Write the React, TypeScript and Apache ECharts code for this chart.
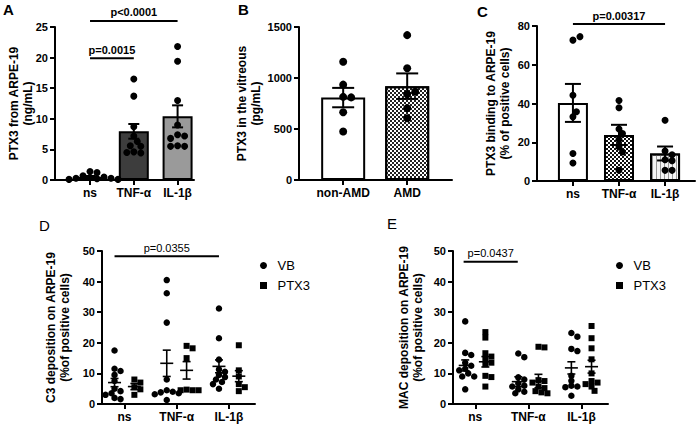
import React, { useEffect, useRef } from 'react';
import * as echarts from 'echarts';

const FONT = '"Liberation Sans", Arial, Helvetica, sans-serif';

// ---------- Panel A ----------
const aCats = ['ns', 'TNF-α', 'IL-1β'];
const aMean = [0.5, 7.95, 10.4];
const aSem = [0.15, 1.2, 1.8];
const aNs = [1.4, 1.2, 0.7, 0.5, 0.4, 0.3, 0.3, 0.2, 0.1, 0.1];
const aTnf = [16.5, 13.7, 8.7, 7.2, 6.3, 5.6, 5.5, 4.6, 4.4, 4.5];
const aIl = [21.8, 19.4, 13.0, 9.0, 7.4, 7.2, 6.8, 5.6, 5.5, 5.5];
const aSigLabels = ['p<0.0001', 'p=0.0015'];
const aSigRows = [[1, 3, 26.0], [1, 2, 19.9]];

// ---------- Panel B ----------
const bCats = ['non-AMD', 'AMD'];
const bMean = [808, 920];
const bSem = [95, 125];
const bNonAmd = [1160, 935, 815, 810, 665, 475];
const bAmd = [1420, 1095, 840, 865, 705, 605];

// ---------- Panel C ----------
const cCats = ['ns', 'TNF-α', 'IL-1β'];
const cMean = [40.3, 23.8, 14.2];
const cSem = [9.8, 5.2, 3.6];
const cNs = [72.7, 74.5, 44.3, 33.1, 35.7, 14.2, 9.3];
const cTnf = [41.5, 37.8, 26.8, 24.5, 21.4, 17.6, 15, 5.5];
const cIl = [31.4, 15.5, 13.5, 11, 10.5, 5.5, 5.5];
const cSigLabels = ['p=0.00317'];
const cSigRows = [[1, 3, 81]];

// ---------- Panel D ----------
const dCats = ['ns', 'TNF-α', 'IL-1β'];
const dVbNs = [17.5, 11.5, 10.8, 9.5, 7.5, 5, 4.2, 3.5, 3, 2, 1.6];
const dVbTnf = [40.5, 36.2, 26.6, 8.0, 4.5, 4.0, 3.8, 3.5, 3.2, 1.3];
const dVbIl = [31.2, 21.5, 14.5, 11.3, 10.5, 9.5, 8.8, 8, 7.2, 6.5, 5];
const dPtxNs = [8.0, 7.0, 5.5, 4.8, 3.0];
const dPtxTnf = [19, 18.2, 15, 4.7, 4.5, 4.5, 4.5];
const dPtxIl = [19.2, 11, 9, 6.5, 5.5, 4.2];
const dVbMean = [7.0, 13.3, 12.3];
const dVbSem = [1.35, 4.3, 2.1];
const dPtxMean = [5.7, 11.0, 9.1];
const dPtxSem = [1.0, 2.85, 1.8];
const dSigLabels = ['p=0.0355'];
const dSigRows = [[0.81, 2.81, 48.3]];

// ---------- Panel E ----------
const eCats = ['ns', 'TNF-α', 'IL-1β'];
const eVbNs = [27, 16.7, 16, 13.5, 12.5, 11.5, 11, 10, 9, 9, 4.8];
const eVbTnf = [16.5, 15.3, 8.7, 8, 6.8, 6, 5.7, 4.8, 4, 3.5];
const eVbIl = [23.2, 22, 18, 17.3, 9.2, 7.6, 6, 5.7, 5.5, 2.7];
const ePtxNs = [23.5, 21.7, 16.6, 15.5, 14.6, 13.5, 13, 9.2, 8.8, 5.7];
const ePtxTnf = [18.7, 18.5, 7.8, 7.5, 7, 5.7, 5.2, 4.2, 3.8, 3.5];
const ePtxIl = [25.5, 21.5, 18.2, 14.6, 10, 7.5, 7, 6.5, 5.7, 4.3];
const eVbMean = [12.6, 7.3, 11.8];
const eVbSem = [1.8, 1.6, 2.0];
const ePtxMean = [13.8, 7.5, 12.2];
const ePtxSem = [1.7, 2.2, 2.1];
const eSigLabels = ['p=0.0437'];
const eSigRows = [[0.78, 1.8, 46.5]];

const legendNames = ['VB', 'PTX3'];

// ---------- layout ----------
const grids = [
  { left: 55, top: 27, width: 139, height: 153 },
  { left: 299, top: 27, width: 153, height: 153 },
  { left: 537, top: 26, width: 158, height: 155 },
  { left: 102, top: 251, width: 153, height: 153 },
  { left: 453, top: 251, width: 155, height: 153 },
];
const xRanges = [[0.2, 3.375], [0.31, 2.7], [0.22, 3.65], [0.57, 3.5], [0.58, 3.5]];
const yMaxes = [25, 1500, 80, 50, 50];
const yIntervals = [5, 500, 20, 10, 10];
const yNames = [
  'PTX3 from ARPE-19\n(ng/mL)',
  'PTX3 in the vitreous\n(pg/mL)',
  'PTX3 binding to ARPE-19\n(% of positive cells)',
  'C3 deposition on ARPE-19\n(%of positive cells)',
  'MAC deposition on ARPE-19\n(%of positive cells)',
];
const nameGaps = [20, 36, 25, 30, 28];
const allCats = [aCats, bCats, cCats, dCats, eCats];
const GROUP_OFF = 0.19;

const pxX = (gi: number) => grids[gi].width / (xRanges[gi][1] - xRanges[gi][0]);
const pxY = (gi: number) => grids[gi].height / yMaxes[gi];

function swarm(values: number[], center: number, gi: number, d: number): number[][] {
  const placed: number[][] = [];
  const out: number[][] = [];
  const sx = pxX(gi);
  const sy = pxY(gi);
  for (const v of values) {
    const py = v * sy;
    let off = 0;
    for (let k = 0; k < 60; k++) {
      const cand = k === 0 ? 0 : (k % 2 === 1 ? 1 : -1) * Math.ceil(k / 2) * d * 0.5;
      if (placed.every(([qx, qy]) => Math.hypot(qx - cand, qy - py) >= d * 0.8)) {
        off = cand;
        break;
      }
    }
    placed.push([off, py]);
    out.push([center + off / sx, v]);
  }
  return out;
}

const black = '#000';

function errorSeries(gi: number, means: number[], sems: number[], off: number, cap: number, meanW: number, lw: number) {
  return {
    type: 'custom',
    xAxisIndex: gi,
    yAxisIndex: gi,
    z: 6,
    silent: true,
    clip: false,
    data: means.map((m, k) => [k + 1 + off, m, sems[k]]),
    renderItem: (_p: any, api: any) => {
      const x = api.value(0);
      const m = api.value(1);
      const s = api.value(2);
      const top = api.coord([x, m + s]);
      const bot = api.coord([x, m - s]);
      const mid = api.coord([x, m]);
      const style = { stroke: black, lineWidth: lw, fill: 'none' };
      const children: any[] = [
        { type: 'line', shape: { x1: top[0], y1: top[1], x2: bot[0], y2: bot[1] }, style },
        { type: 'line', shape: { x1: top[0] - cap / 2, y1: top[1], x2: top[0] + cap / 2, y2: top[1] }, style },
        { type: 'line', shape: { x1: bot[0] - cap / 2, y1: bot[1], x2: bot[0] + cap / 2, y2: bot[1] }, style },
      ];
      if (meanW > 0) {
        children.push({ type: 'line', shape: { x1: mid[0] - meanW / 2, y1: mid[1], x2: mid[0] + meanW / 2, y2: mid[1] }, style });
      }
      return { type: 'group', children };
    },
  };
}

function sigSeries(gi: number, rows: number[][], labels: string[], weight: string) {
  return {
    type: 'custom',
    xAxisIndex: gi,
    yAxisIndex: gi,
    z: 7,
    silent: true,
    clip: false,
    data: rows,
    renderItem: (p: any, api: any) => {
      const y = api.value(2);
      const p1 = api.coord([api.value(0), y]);
      const p2 = api.coord([api.value(1), y]);
      return {
        type: 'group',
        children: [
          { type: 'line', shape: { x1: p1[0], y1: p1[1], x2: p2[0], y2: p2[1] }, style: { stroke: black, lineWidth: 2 } },
          {
            type: 'text',
            x: (p1[0] + p2[0]) / 2,
            y: p1[1] - 3,
            style: {
              text: labels[p.dataIndex],
              fill: black,
              fontSize: 11,
              fontWeight: weight,
              fontFamily: FONT,
              align: 'center',
              verticalAlign: 'bottom',
            },
          },
        ],
      };
    },
  };
}

function barSeries(gi: number, means: number[], styles: any[], width: number) {
  return {
    type: 'bar',
    xAxisIndex: gi,
    yAxisIndex: gi,
    barWidth: width,
    z: 2,
    silent: true,
    data: means.map((m, k) => ({
      value: [k + 1, m],
      itemStyle: { borderColor: black, borderWidth: 2, ...styles[k] },
    })),
  };
}

function scatter(gi: number, name: string, data: number[][], symbol: string, size: number) {
  return {
    type: 'scatter',
    name,
    xAxisIndex: gi,
    yAxisIndex: gi,
    symbol,
    symbolSize: size,
    z: 4,
    silent: true,
    itemStyle: { color: black, opacity: 1 },
    data,
  };
}

const checker = (cell: number, color: string, bg: string) => ({
  symbol: 'rect',
  symbolSize: 1,
  dashArrayX: [[cell, cell], [0, cell, cell, 0]],
  dashArrayY: [cell, 0],
  color,
  backgroundColor: bg,
  rotation: 0,
});

function buildOption() {
  const textBase = { color: black, fontFamily: FONT };
  const grid = grids.map((g) => ({ ...g, containLabel: false, outerBoundsMode: 'none' }));
  const xAxis = grids.map((_, gi) => {
    const vals = allCats[gi].map((_c, k) => k + 1);
    return {
      type: 'value',
      gridIndex: gi,
      min: xRanges[gi][0],
      max: xRanges[gi][1],
      axisLine: { show: true, onZero: false, lineStyle: { color: black, width: 2 } },
      axisTick: { show: true, customValues: vals, length: 5, lineStyle: { color: black, width: 2 } },
      axisLabel: {
        show: true,
        customValues: vals,
        formatter: (v: number) => allCats[gi][Math.round(v) - 1] ?? '',
        ...textBase,
        fontSize: 12,
        fontWeight: 'bold',
        margin: 7,
      },
      splitLine: { show: false },
    };
  });
  const yAxis = grids.map((_, gi) => ({
    type: 'value',
    gridIndex: gi,
    min: 0,
    max: yMaxes[gi],
    interval: yIntervals[gi],
    axisLine: { show: true, lineStyle: { color: black, width: 2 } },
    axisTick: { show: true, length: 5, lineStyle: { color: black, width: 2 } },
    axisLabel: { ...textBase, fontSize: 11, fontWeight: 'bold', margin: 7, formatter: (v: number) => String(v) },
    splitLine: { show: false },
    name: yNames[gi],
    nameLocation: 'middle',
    nameRotate: 90,
    nameGap: nameGaps[gi],
    nameMoveOverlap: false,
    nameTextStyle: { ...textBase, fontSize: 12, fontWeight: 'bold', lineHeight: 14, align: 'center' },
  }));

  const series: any[] = [];
  // A
  series.push(barSeries(0, aMean, [{ color: '#fff' }, { color: '#3d3d3d' }, { color: '#9a9a9a' }], 30));
  series.push(scatter(0, 'A', [aNs, aTnf, aIl].flatMap((vals, k) => swarm(vals, k + 1, 0, 7)), 'circle', 7));
  series.push(errorSeries(0, aMean, aSem, 0, 11, 0, 2));
  series.push(sigSeries(0, aSigRows, aSigLabels, 'bold'));
  // B
  series.push(barSeries(1, bMean, [{ color: '#fff' }, { color: '#fff', decal: checker(2, '#222', '#fff') }], 44));
  series.push(scatter(1, 'B', [bNonAmd, bAmd].flatMap((vals, k) => swarm(vals, k + 1, 1, 8)), 'circle', 8));
  series.push(errorSeries(1, bMean, bSem, 0, 22, 0, 2));
  // C
  series.push(
    barSeries(
      2,
      cMean,
      [
        { color: '#fff' },
        { color: '#fff', decal: checker(2, '#111', '#cfcfcf') },
        {
          color: '#f4f4f4',
          decal: { symbol: 'rect', symbolSize: 1, dashArrayX: [1, 3], dashArrayY: [10, 0], color: '#9a9a9a', backgroundColor: '#f4f4f4' },
        },
      ],
      30
    )
  );
  series.push(scatter(2, 'C', [cNs, cTnf, cIl].flatMap((vals, k) => swarm(vals, k + 1, 2, 7)), 'circle', 7));
  series.push(errorSeries(2, cMean, cSem, 0, 16, 0, 2));
  series.push(sigSeries(2, cSigRows, cSigLabels, 'bold'));
  // D
  series.push(scatter(3, legendNames[0], [dVbNs, dVbTnf, dVbIl].flatMap((vals, k) => swarm(vals, k + 1 - GROUP_OFF, 3, 6)), 'circle', 6.5));
  series.push(scatter(3, legendNames[1], [dPtxNs, dPtxTnf, dPtxIl].flatMap((vals, k) => swarm(vals, k + 1 + GROUP_OFF, 3, 6)), 'rect', 6));
  series.push(errorSeries(3, dVbMean, dVbSem, -GROUP_OFF, 8, 13, 1.6));
  series.push(errorSeries(3, dPtxMean, dPtxSem, GROUP_OFF, 8, 13, 1.6));
  series.push(sigSeries(3, dSigRows, dSigLabels, 'normal'));
  // E
  series.push(scatter(4, legendNames[0], [eVbNs, eVbTnf, eVbIl].flatMap((vals, k) => swarm(vals, k + 1 - GROUP_OFF, 4, 6)), 'circle', 6.5));
  series.push(scatter(4, legendNames[1], [ePtxNs, ePtxTnf, ePtxIl].flatMap((vals, k) => swarm(vals, k + 1 + GROUP_OFF, 4, 6)), 'rect', 6));
  series.push(errorSeries(4, eVbMean, eVbSem, -GROUP_OFF, 8, 13, 1.6));
  series.push(errorSeries(4, ePtxMean, ePtxSem, GROUP_OFF, 8, 13, 1.6));
  series.push(sigSeries(4, eSigRows, eSigLabels, 'normal'));

  const legendBase = {
    data: [
      { name: legendNames[0], icon: 'circle' },
      { name: legendNames[1], icon: 'path://M0,0L1,0L1,1L0,1Z' },
    ],
    orient: 'vertical',
    top: 254,
    itemWidth: 18,
    itemHeight: 7,
    itemGap: 7,
    symbolKeepAspect: true,
    selectedMode: false,
    textStyle: { ...textBase, fontSize: 13 },
  };

  const letter = (t: string, x: number, y: number, bold: boolean) => ({
    type: 'text',
    x,
    y,
    style: { text: t, fill: black, fontSize: 15, fontWeight: bold ? 'bold' : 'normal', fontFamily: FONT, verticalAlign: 'middle' },
  });

  return {
    animation: false,
    backgroundColor: '#fff',
    grid,
    xAxis,
    yAxis,
    series,
    legend: [
      { ...legendBase, left: 255 },
      { ...legendBase, left: 611 },
    ],
    graphic: [
      letter('A', 3, 9, true),
      letter('B', 238, 9, true),
      letter('C', 477, 11, true),
      letter('D', 39, 225, false),
      letter('E', 387, 223, false),
    ],
  };
}

export default function App() {
  const ref = useRef<HTMLDivElement>(null);
  useEffect(() => {
    if (!ref.current) return;
    const chart = echarts.init(ref.current, null, { renderer: 'svg' });
    chart.setOption(buildOption() as any);
    return () => chart.dispose();
  }, []);
  return (
    <div
      ref={ref}
      style={{ position: 'fixed', left: 0, top: 0, width: 698, height: 428, background: '#fff' }}
    />
  );
}
